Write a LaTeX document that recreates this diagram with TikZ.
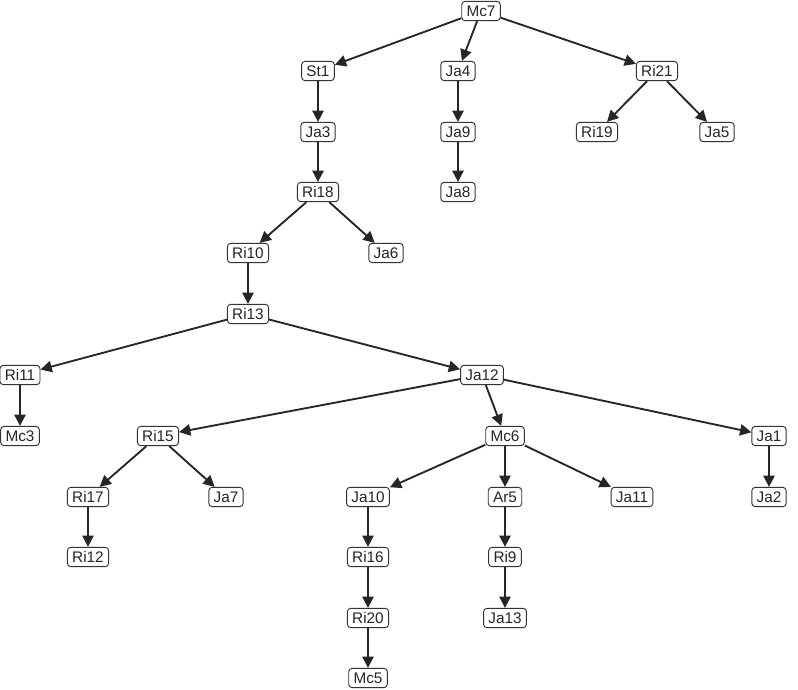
\documentclass[tikz,border=0pt]{standalone}
\usepackage{fontspec}
\setmainfont{Liberation Sans}
\usetikzlibrary{arrows.meta}

\begin{document}
\begin{tikzpicture}[x=0.75pt,y=-0.75pt,
  tree/.style={draw=black!80,rounded corners=2.5pt,line width=0.7pt,fill=white,
    inner xsep=3.6pt,inner ysep=3pt,text height=8.3pt,text depth=0.2pt,
    font=\fontsize{11.5}{12}\selectfont,text=black!85},
  edge/.style={line width=1.4pt,draw=black!85,-{Triangle[length=8.5pt,width=8.5pt]}}]

\useasboundingbox (0,0) rectangle (798,689);

% levels: 11, 71, 132, 192, 253, 314, 375, 436, 497, 557, 618, 679
\node[tree] (Mc7) at (481,11) {Mc7};

\node[tree] (St1) at (318,71) {St1};
\node[tree] (Ja4) at (458,71) {Ja4};
\node[tree] (Ri21) at (657,71) {Ri21};

\node[tree] (Ja3) at (318,132) {Ja3};
\node[tree] (Ja9) at (458,132) {Ja9};
\node[tree] (Ri19) at (597,132) {Ri19};
\node[tree] (Ja5) at (717,132) {Ja5};

\node[tree] (Ri18) at (318,192) {Ri18};
\node[tree] (Ja8) at (458,192) {Ja8};

\node[tree] (Ri10) at (248,253) {Ri10};
\node[tree] (Ja6) at (386,253) {Ja6};

\node[tree] (Ri13) at (248,314) {Ri13};

\node[tree] (Ri11) at (20,375) {Ri11};
\node[tree] (Ja12) at (482,375) {Ja12};

\node[tree] (Mc3) at (20,436) {Mc3};
\node[tree] (Ri15) at (158,436) {Ri15};
\node[tree] (Mc6) at (505,436) {Mc6};
\node[tree] (Ja1) at (769,436) {Ja1};

\node[tree] (Ri17) at (88,497) {Ri17};
\node[tree] (Ja7) at (226,497) {Ja7};
\node[tree] (Ja10) at (368,497) {Ja10};
\node[tree] (Ar5) at (505,497) {Ar5};
\node[tree] (Ja11) at (632,497) {Ja11};
\node[tree] (Ja2) at (769,497) {Ja2};

\node[tree] (Ri12) at (88,557) {Ri12};
\node[tree] (Ri16) at (368,557) {Ri16};
\node[tree] (Ri9) at (505,557) {Ri9};

\node[tree] (Ri20) at (368,618) {Ri20};
\node[tree] (Ja13) at (505,618) {Ja13};

\node[tree] (Mc5) at (368,678) {Mc5};

% edges
\draw[edge] (Mc7) -- (St1);
\draw[edge] (Mc7) -- (Ja4);
\draw[edge] (Mc7) -- (Ri21);
\draw[edge] (St1) -- (Ja3);
\draw[edge] (Ja4) -- (Ja9);
\draw[edge] (Ri21) -- (Ri19);
\draw[edge] (Ri21) -- (Ja5);
\draw[edge] (Ja3) -- (Ri18);
\draw[edge] (Ja9) -- (Ja8);
\draw[edge] (Ri18) -- (Ri10);
\draw[edge] (Ri18) -- (Ja6);
\draw[edge] (Ri10) -- (Ri13);
\draw[edge] (Ri13) -- (Ri11);
\draw[edge] (Ri13) -- (Ja12);
\draw[edge] (Ri11) -- (Mc3);
\draw[edge] (Ja12) -- (Ri15);
\draw[edge] (Ja12) -- (Mc6);
\draw[edge] (Ja12) -- (Ja1);
\draw[edge] (Ri15) -- (Ri17);
\draw[edge] (Ri15) -- (Ja7);
\draw[edge] (Mc6) -- (Ja10);
\draw[edge] (Mc6) -- (Ar5);
\draw[edge] (Mc6) -- (Ja11);
\draw[edge] (Ja1) -- (Ja2);
\draw[edge] (Ri17) -- (Ri12);
\draw[edge] (Ja10) -- (Ri16);
\draw[edge] (Ar5) -- (Ri9);
\draw[edge] (Ri16) -- (Ri20);
\draw[edge] (Ri9) -- (Ja13);
\draw[edge] (Ri20) -- (Mc5);

\end{tikzpicture}
\end{document}
